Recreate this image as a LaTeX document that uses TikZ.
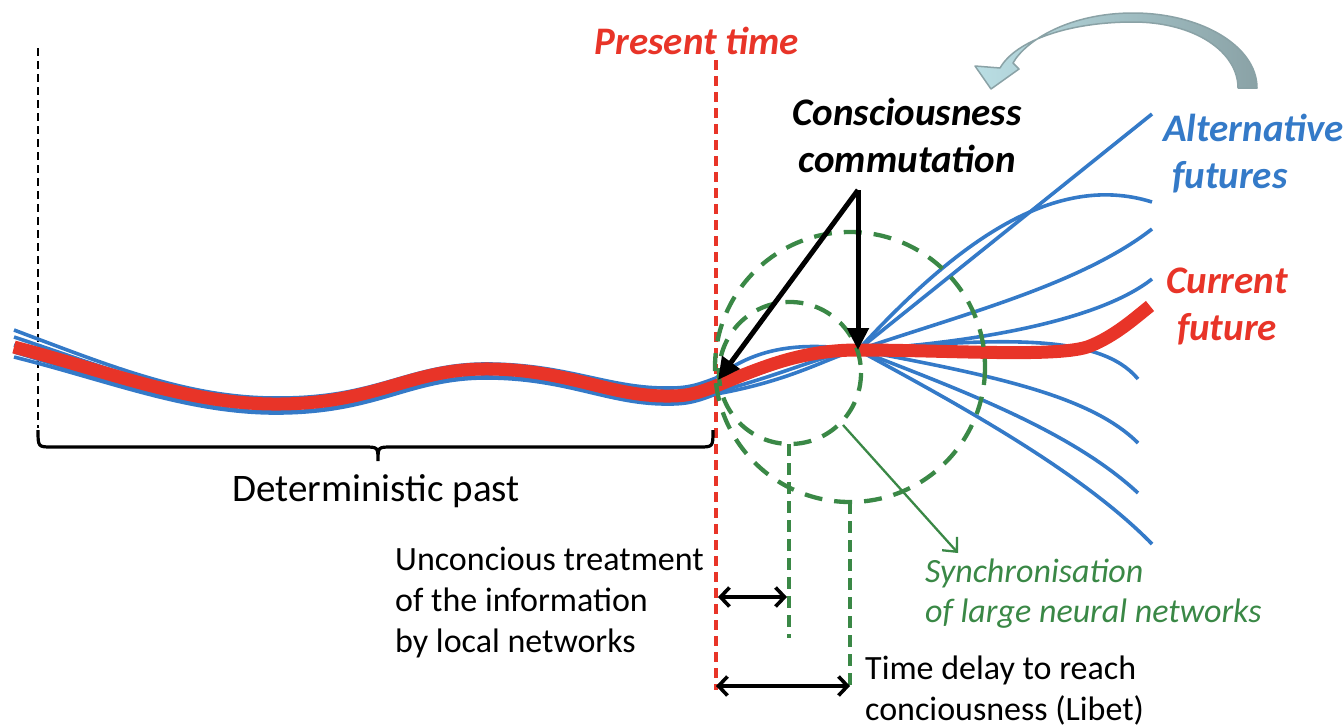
\documentclass[tikz,border=0pt]{standalone}
\usepackage{fontspec}
\setmainfont{Carlito}
\usetikzlibrary{arrows.meta}
\definecolor{nowred}{RGB}{232,52,40}
\definecolor{futblue}{RGB}{52,122,200}
\definecolor{syncgreen}{RGB}{58,136,70}
\definecolor{bendlight}{RGB}{186,222,228}
\definecolor{benddark}{RGB}{138,162,166}
% one trajectory of the past, with small vertical offsets (#2..#4) along its course
\newcommand\pastline[4]{(14,#1) .. controls (110,{372#2}) and (190,{405#2}) .. (280,{404#2})
  .. controls (380,{403#3}) and (410,{368#3}) .. (490,{369#3})
  .. controls (570,{370#3}) and (610,{397#4}) .. (670,{396#4})
  .. controls (690,{396#4}) and (700,{392#4}) .. (716,{386#4})}
\begin{document}
\begin{tikzpicture}[x=1pt,y=-1pt,
  bluepath/.style={draw=futblue,line width=3.6pt},
  redpath/.style={draw=nowred,line width=13pt},
  presentline/.style={draw=nowred,line width=3.8pt,dash pattern=on 10pt off 6pt},
  originline/.style={draw=black,line width=1.8pt,dash pattern=on 8pt off 5pt},
  ringdash/.style={draw=syncgreen,line width=4.3pt,dash pattern=on 18pt off 12pt},
  dropdash/.style={draw=syncgreen,line width=4.3pt,dash pattern=on 12pt off 7pt},
  pointer/.style={draw=black,line width=5pt,-{Triangle[length=22pt,width=21pt]}},
  span/.style={draw=black,line width=3.6pt,{Straight Barb[length=9pt,width=19pt]}-{Straight Barb[length=9pt,width=19pt]}},
  syncarrow/.style={draw=syncgreen,line width=2.3pt,-{Straight Barb[length=11pt,width=20pt]}},
  txt/.style={inner sep=0pt,font=\fontsize{34}{41}\selectfont,align=left},
  bigtxt/.style={inner sep=0pt,font=\fontsize{39}{46}\selectfont},
  head/.style={inner sep=0pt,font=\fontsize{39}{47}\selectfont\bfseries\itshape,align=center}]
\useasboundingbox (0,0) rectangle (1344,726);

% key points
\coordinate (conv) at (858,350);
\coordinate (now) at (718,380);
\coordinate (cfoot) at (858,190);

% origin of the past
\draw[originline] (38,48) -- (38,428);

% past trajectories
\draw[bluepath] \pastline{330}{-6}{-5}{-8};
\draw[bluepath] \pastline{337}{-3}{-3}{-4};
\draw[bluepath] \pastline{345}{+4}{+4}{+3};
\draw[bluepath] \pastline{352}{+8}{+8}{+6};
\draw[bluepath] \pastline{357}{+9}{+9}{+8};

% trajectories converging after the present
\draw[bluepath] (716,378) .. controls (750,352) and (790,340) .. (conv);
\draw[bluepath] (716,382) .. controls (770,358) and (820,348) .. (conv);
\draw[bluepath] (716,389) .. controls (775,368) and (815,351) .. (conv);
\draw[bluepath] (716,392) .. controls (785,374) and (825,354) .. (conv);
\draw[bluepath] (716,394) .. controls (795,380) and (830,356) .. (conv);

% alternative futures
\draw[bluepath] (conv) -- (1152,114);
\draw[bluepath] (conv) .. controls (950,250) and (1050,170) .. (1152,202);
\draw[bluepath] (conv) .. controls (960,315) and (1080,285) .. (1152,229);
\draw[bluepath] (conv) .. controls (980,342) and (1100,320) .. (1152,279);
\draw[bluepath] (conv) .. controls (1000,338) and (1100,333) .. (1138,379);
\draw[bluepath] (conv) .. controls (990,375) and (1090,395) .. (1138,443);
\draw[bluepath] (conv) .. controls (960,390) and (1070,430) .. (1138,493);
\draw[bluepath] (conv) .. controls (950,400) and (1080,470) .. (1152,544);

% current trajectory
\draw[redpath] \pastline{347}{+0}{+0}{+0}
  .. controls (760,368) and (800,350) .. (conv)
  .. controls (950,350) and (1060,358) .. (1090,346)
  .. controls (1115,336) and (1135,318) .. (1150,306);

% present time
\draw[presentline] (716,60) -- (716,690);
\node[head,text=nowred,anchor=base] (ptime) at (697,54) {Present time};

% brace under the past
\draw[line width=3.2pt] (38,430) .. controls (38,447) .. (52,447) -- (364,447)
  .. controls (378,447) .. (378,461) .. controls (378,447) .. (392,447)
  -- (699,447) .. controls (713,447) .. (713,430);
\node[bigtxt,anchor=base] (past) at (376,501) {Deterministic past};

% synchronisation zones
\draw[ringdash] (850,367) circle[radius=135];
\draw[ringdash] (790,373) circle[radius=71];
\draw[dropdash] (789,444) -- (789,638);
\draw[dropdash] (850,502) -- (850,686);
\coordinate (d1) at (787,597);
\coordinate (d2) at (850,686);
\coordinate (r1) at (718,597);
\coordinate (r2) at (716,686);
\draw[span] (r1) -- (d1);
\draw[span] (r2) -- (d2);

% consciousness commutation (base = last line)
\node[head,anchor=base] (cc) at (907,172) {Consciousness\\commutation};
\draw[pointer] (cfoot) -- (now);
\draw[pointer] (cfoot) -- (conv);

% labels on the right
\node[head,text=futblue,anchor=base west,align=left] (alt) at (1163,188) {Alternative\\\hspace*{9pt}futures};
\node[head,text=nowred,anchor=base] (cur) at (1227,340) {Current\\future};

% labels at the bottom
\node[txt,anchor=base west] (unc) at (395,652) {Unconcious treatment\\of the information\\by local networks};
\coordinate (syncfrom) at (843,425);
\node[txt,text=syncgreen,font=\fontsize{34}{40}\selectfont\itshape,anchor=base west] (sync) at (925,622) {Synchronisation\\of large neural networks};
\draw[syncarrow] (syncfrom) -- (958,553);
\node[txt,anchor=base west] (libet) at (865,720) {Time delay to reach\\conciousness (Libet)};

% bent arrow at the top right
\shade[left color=bendlight,right color=benddark,draw=benddark,line width=1.5pt,line join=round]
  (1257,88) .. controls (1257,46) and (1201,13) .. (1133,13)
  .. controls (1070,13) and (1026,40) .. (1013,63)
  -- (1019,69) -- (991,89) -- (975,66) -- (1000,68)
  .. controls (1016,40) and (1070,22) .. (1133,22)
  .. controls (1195,22) and (1238,52) .. (1238,88) -- cycle;
\end{tikzpicture}
\end{document}
